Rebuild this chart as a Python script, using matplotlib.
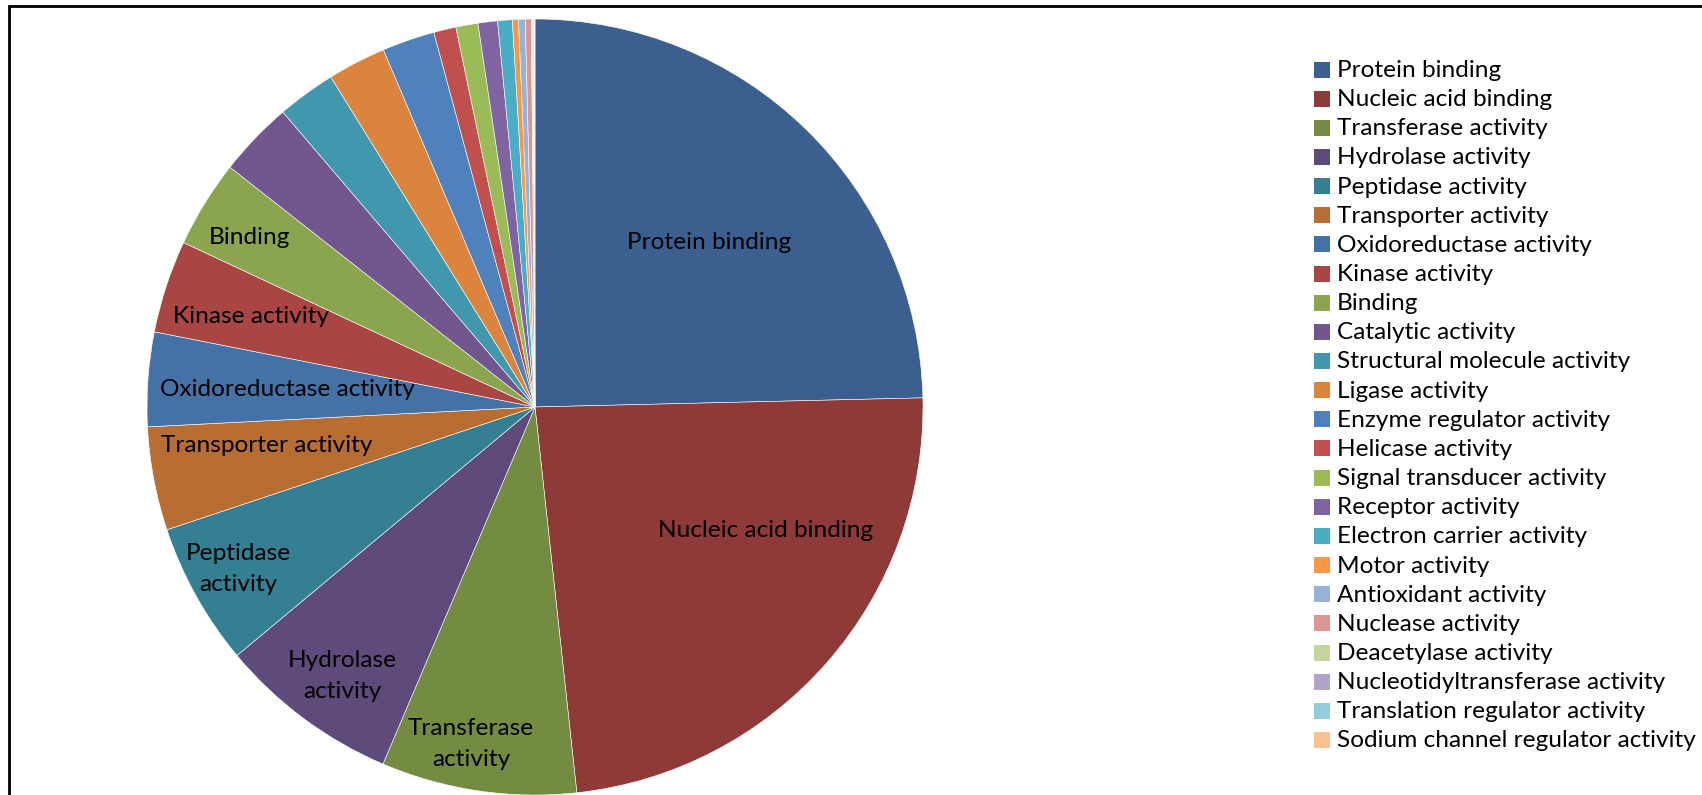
import matplotlib
matplotlib.use("Agg")
import matplotlib.pyplot as plt
from matplotlib.patches import Rectangle
import numpy as np

plt.rcParams['font.family'] = ['Lato', 'DejaVu Sans']

# Molecular function categories (share of annotated genes, %)
categories = [
    "Protein binding", "Nucleic acid binding", "Transferase activity",
    "Hydrolase activity", "Peptidase activity", "Transporter activity",
    "Oxidoreductase activity", "Kinase activity", "Binding",
    "Catalytic activity", "Structural molecule activity", "Ligase activity",
    "Enzyme regulator activity", "Helicase activity",
    "Signal transducer activity", "Receptor activity",
    "Electron carrier activity", "Motor activity", "Antioxidant activity",
    "Nuclease activity", "Deacetylase activity",
    "Nucleotidyltransferase activity", "Translation regulator activity",
    "Sodium channel regulator activity",
]
shares = [
    24.63, 23.66, 8.13, 7.53, 5.94, 4.31,
    3.92, 3.86, 3.64, 3.14, 2.44, 2.43,
    2.19, 0.93, 0.92, 0.81, 0.61, 0.25,
    0.28, 0.25, 0.05, 0.04, 0.03, 0.03,
]
colors = [
    "#3B5F8E", "#8E3A38", "#738C42", "#5E4A7B", "#357F92", "#B86D33",
    "#4471A6", "#A94643", "#8AA54E", "#71578E", "#4197AE", "#DB843D",
    "#4F81BD", "#C0504D", "#9BBB59", "#8064A2", "#4BACC6", "#F79646",
    "#95B3D7", "#D99694", "#C3D69B", "#B3A2C7", "#93CDDD", "#FAC090",
]
# In-slice labels: text and anchor (in pie-radius units)
slice_labels = [
    ("Protein binding", (0.448, 0.425)),
    ("Nucleic acid binding", (0.593, -0.318)),
    ("Transferase\nactivity", (-0.165, -0.868)),
    ("Hydrolase\nactivity", (-0.497, -0.693)),
    ("Peptidase\nactivity", (-0.765, -0.418)),
    ("Transporter activity", (-0.692, -0.098)),
    ("Oxidoreductase activity", (-0.637, 0.045)),
    ("Kinase activity", (-0.732, 0.234)),
    ("Binding", (-0.737, 0.437)),
]

W, H = 1702, 795
fig = plt.figure(figsize=(W / 100, H / 100), dpi=100)
fig.patch.set_facecolor("white")

cx, cy, R = 535, 407, 388
ax = fig.add_axes([(cx - R) / W, (H - cy - R) / H, 2 * R / W, 2 * R / H])
ax.pie(shares, colors=colors, startangle=90, counterclock=False, radius=1,
       wedgeprops=dict(edgecolor="white", linewidth=0.4))
ax.set_xlim(-1, 1)
ax.set_ylim(-1, 1)
ax.set_aspect("equal")
ax.axis("off")

fs = 17.6
for text, (x, y) in slice_labels:
    ax.text(x, y, text, ha="center", va="center", fontsize=fs,
            color="black", linespacing=1.6)

# Legend drawn row by row in pixel coordinates
row0, step = 69.5, 29.15
for i, (name, c) in enumerate(zip(categories, colors)):
    yc = row0 + i * step
    fig.add_artist(Rectangle((1314 / W, 1 - (yc + 8) / H), 16 / W, 16 / H,
                             transform=fig.transFigure, facecolor=c,
                             edgecolor="none"))
    fig.text(1337 / W, 1 - (yc + 1) / H, name, ha="left", va="center",
             fontsize=fs, color="black")

# Chart frame (top and left edges visible)
fig.add_artist(Rectangle((9 / W, -0.1), 1.2, 1.1 - 6 / H,
                         transform=fig.transFigure, facecolor="none",
                         edgecolor="black", linewidth=2.0))

fig.savefig("out.png", dpi=100, facecolor="white")
